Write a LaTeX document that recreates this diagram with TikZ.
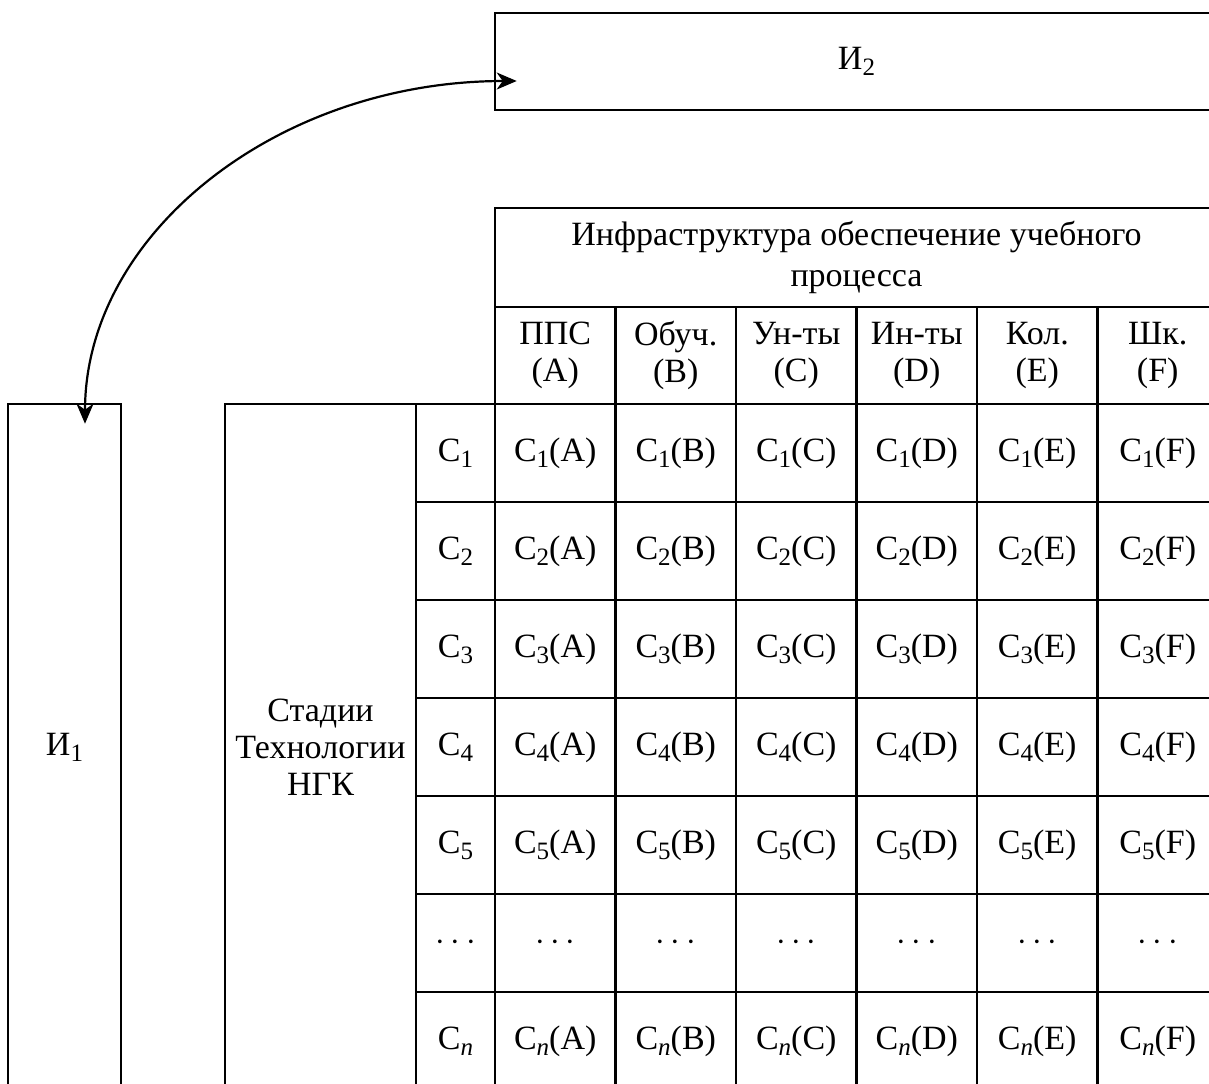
\documentclass[tikz,border=0pt]{standalone}
\usepackage{fontspec}
\setmainfont{Liberation Serif}
\usetikzlibrary{arrows.meta,calc}

% lowered index in the style of a math subscript
\newcommand{\lowidx}[1]{\raisebox{-3pt}{\fontsize{12.5}{12.5}\selectfont #1}}
\newcommand{\Cc}[1]{С\lowidx{#1}}

\begin{document}
\begin{tikzpicture}[x=0.5pt,y=-0.5pt,
  box/.style={draw, line width=1.3pt, inner sep=0pt, align=center,
    font=\fontsize{17}{18.5}\selectfont},
  cell/.style={box, minimum width=60.25pt, minimum height=49pt},
  rowlab/.style={box, minimum width=39.5pt, minimum height=49pt},
  tipshape/.style={},
  link/.style={line width=1.1pt,
    {Stealth[length=10pt,width=8.5pt,inset=3pt]}-{Stealth[length=10pt,width=8.5pt,inset=3pt]}}]
\clip (0,0) rectangle (1209,1083);

% top block
\node[box, minimum width=361.5pt, minimum height=48.5pt] (i2) at (856.5,61.5) {И\lowidx{2}};

% table header
\node[box, minimum width=361.5pt, minimum height=49.5pt,
  font=\fontsize{17}{20.5}\selectfont] (head) at (856.5,257.5)
  {Инфраструктура обеспечение учебного\\процесса};
\foreach \n/\a [count=\j from 0] in {ППС/A, Обуч./B, Ун-ты/C, Ин-ты/D, Кол./E, Шк./F}
  \node[cell, minimum height=48.5pt] (h-\j) at (555.25+120.5*\j,355.5) {\n\\(\a)};

% stage rows
\foreach \i/\k in {0/1,1/2,2/3,3/4,4/5} {
  \node[rowlab] (r-\i) at (455.5,453+98*\i) {\Cc{\k}};
  \foreach \a [count=\j from 0] in {A,B,C,D,E,F}
    \node[cell] (m-\i-\j) at (555.25+120.5*\j,453+98*\i) {\Cc{\k}(\a)};
}
\node[rowlab] (r-5) at (455.5,943) {$\cdots$};
\foreach \j in {0,...,5}
  \node[cell] (m-5-\j) at (555.25+120.5*\j,943) {$\cdots$};
\node[rowlab] (r-6) at (455.5,1041) {\Cc{\textit{n}}};
\foreach \a [count=\j from 0] in {A,B,C,D,E,F}
  \node[cell] (m-6-\j) at (555.25+120.5*\j,1041) {\Cc{\textit{n}}(\a)};

% left blocks
\node[box, minimum width=95.5pt, minimum height=343pt] (st) at (320.5,747)
  {Стадии\\Технологии\\НГК};
\node[box, minimum width=56.5pt, minimum height=343pt] (i1) at (64.5,747) {И\lowidx{1}};

% two-way link
\draw[link] ($(i1.north)+(20.5,21)$)
  .. controls ($(i1.north)+(20.5,-169)$) and ($(i2.west)+(-216,19.5)$)
  .. ($(i2.west)+(23,19.5)$);
\end{tikzpicture}
\end{document}
